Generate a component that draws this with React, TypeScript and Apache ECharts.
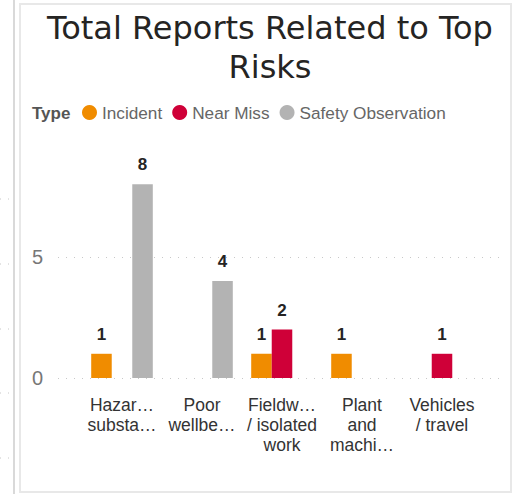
import React, { useEffect, useRef } from "react";
import * as echarts from "echarts";

const categories = [
  "Hazardous substances",
  "Poor wellbeing",
  "Fieldwork / isolated work",
  "Plant and machinery",
  "Vehicles / travel",
];
const tickLabels = [
  "Hazar…\nsubsta…",
  "Poor\nwellbe…",
  "Fieldw…\n/ isolated\nwork",
  "Plant\nand\nmachi…",
  "Vehicles\n/ travel",
];
const incident = [1, null, 1, 1, null];
const nearMiss = [null, null, 2, null, 1];
const safetyObservation = [8, 4, null, null, null];
const seriesNames = ["Incident", "Near Miss", "Safety Observation"];
const colors = ["#F08C00", "#CF0038", "#B3B3B3"];
const yMin = 0;
const yMax = 9;
const yInterval = 5;

const SANS = "Liberation Sans, Arial, sans-serif";

export default function App() {
  const ref = useRef<HTMLDivElement>(null);
  useEffect(() => {
    if (!ref.current) return;
    const chart = echarts.init(ref.current, null, { renderer: "svg" });
    const labelCfg = {
      show: true,
      position: "top",
      distance: 11,
      fontWeight: "bold",
      fontSize: 17,
      color: "#252423",
      fontFamily: SANS,
    };
    const dataSets = [incident, nearMiss, safetyObservation];
    const leftDots = [199, 264, 329, 393, 458];
    chart.setOption({
      animation: false,
      backgroundColor: "#ffffff",
      title: {
        text: "Total Reports Related to Top\nRisks",
        left: 265,
        textAlign: "center",
        top: 3,
        textStyle: {
          fontFamily: "DejaVu Sans, sans-serif",
          fontWeight: "normal",
          fontSize: 32,
          lineHeight: 39,
          color: "#252423",
        },
      },
      legend: {
        left: 77,
        top: 99,
        icon: "circle",
        itemWidth: 15,
        itemHeight: 15,
        itemGap: 10,
        data: seriesNames,
        textStyle: {
          fontFamily: SANS,
          fontSize: 17.2,
          color: "#666666",
        },
      },
      graphic: [
        {
          type: "rect",
          shape: { x: 20, y: 4, width: 491, height: 488 },
          style: { fill: "none", stroke: "#e8e8e8", lineWidth: 2 },
          silent: true,
        },
        {
          type: "line",
          shape: { x1: 14, y1: 0, x2: 14, y2: 494 },
          style: { stroke: "#d9d9d9", lineWidth: 2 },
          silent: true,
        },
        ...leftDots.map((y) => ({
          type: "line",
          shape: { x1: 0, y1: y, x2: 10, y2: y },
          style: { stroke: "#c8c8c8", lineWidth: 1, lineDash: [1, 7] },
          silent: true,
        })),
        {
          type: "text",
          left: 32,
          top: 105,
          style: {
            text: "Type",
            fontFamily: SANS,
            fontWeight: "bold",
            fontSize: 17,
            fill: "#555555",
          },
        },
      ],
      grid: [
        { left: 82, right: 31, top: 160, bottom: 116 },
        { left: 58, right: 10, top: 160, bottom: 116 },
      ],
      xAxis: [
        {
          type: "category",
          gridIndex: 0,
          data: categories,
          axisLine: { show: false },
          axisTick: { show: false },
          axisLabel: {
            interval: 0,
            margin: 17,
            fontSize: 17.5,
            lineHeight: 20,
            color: "#333333",
            fontFamily: SANS,
            formatter: (_v: string, i: number) => tickLabels[i],
          },
        },
        {
          type: "value",
          gridIndex: 1,
          min: 0,
          max: 1,
          show: false,
        },
      ],
      yAxis: [
        {
          type: "value",
          gridIndex: 0,
          min: yMin,
          max: yMax,
          interval: yInterval,
          show: false,
          splitLine: { show: false },
        },
        {
          type: "value",
          gridIndex: 1,
          min: yMin,
          max: yMax,
          interval: yInterval,
          axisLine: { show: false },
          axisTick: { show: false },
          axisLabel: {
            margin: 15,
            fontSize: 20,
            color: "#777777",
            fontFamily: SANS,
            formatter: (v: number) => (v % yInterval === 0 ? String(v) : ""),
          },
          splitLine: {
            show: true,
            lineStyle: {
              color: ["#c8c8c8", "#c8c8c8", "rgba(0,0,0,0)"],
              type: [1, 7],
              width: 1,
            },
          },
        },
      ],
      series: dataSets.map((d, i) => ({
        name: seriesNames[i],
        type: "bar",
        xAxisIndex: 0,
        yAxisIndex: 0,
        data: d,
        barGap: "0%",
        barCategoryGap: "23%",
        itemStyle: { color: colors[i] },
        label: labelCfg,
      })),
    });
    return () => chart.dispose();
  }, []);
  return (
    <div
      ref={ref}
      style={{ position: "fixed", left: 0, top: 0, width: 513, height: 494 }}
    />
  );
}
